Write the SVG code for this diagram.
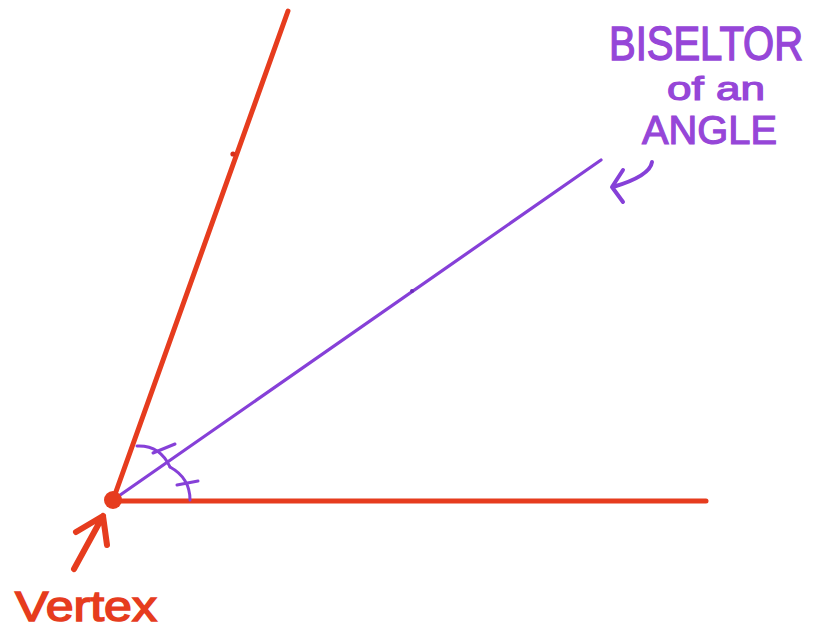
<svg xmlns="http://www.w3.org/2000/svg" width="821" height="632" viewBox="0 0 821 632">
<style>
.red{stroke:#e63c1e;fill:none;stroke-linecap:round;stroke-linejoin:round}
.pur{stroke:#8640d8;fill:none;stroke-linecap:round;stroke-linejoin:round}
.rt{fill:#e63c1e;stroke:#e63c1e;stroke-width:1.5;font-family:"Liberation Sans",sans-serif}
.pt{fill:#9646d8;stroke:#9646d8;stroke-width:1.2;font-family:"Liberation Sans",sans-serif}
</style>
<rect width="821" height="632" fill="#ffffff"/>
<g id="connectors">
<line class="red" x1="113" y1="500" x2="288" y2="11" stroke-width="5"/>
<line class="red" x1="113" y1="501" x2="706" y2="501" stroke-width="5"/>
<line class="pur" x1="113" y1="500" x2="601" y2="160" stroke-width="3.2"/>
<circle cx="233" cy="154" r="2.6" fill="#d8301a"/>
<circle cx="412" cy="291" r="2" fill="#6a2cb8"/>
<path class="pur" d="M137,446 Q160,445 170,467" stroke-width="3"/>
<path class="pur" d="M153,453 L175,444" stroke-width="3"/>
<path class="pur" d="M170,467 Q190,478 190,500" stroke-width="3"/>
<path class="pur" d="M177,485 L198,481" stroke-width="3"/>
<path class="pur" d="M652,162 Q650,176 613,187 M623,170 L612,187 L623,202" stroke-width="4"/>
<path class="red" d="M74,569 L103,516 M76,532 L103,516 L107,545" stroke-width="6"/>
</g>
<g id="vertex">
<circle cx="113" cy="500" r="9" fill="#e63c1e"/>
<text class="rt" x="15" y="621" font-size="42" textLength="142" lengthAdjust="spacingAndGlyphs">Vertex</text>
</g>
<g id="bisector-label">
<text class="pt" transform="translate(609,60) scale(1,1.18)" x="0" y="0" font-size="40">BISELTOR</text>
<text class="pt" x="667" y="100" font-size="34" textLength="98" lengthAdjust="spacingAndGlyphs">of an</text>
<text class="pt" x="642" y="144" font-size="40" textLength="135" lengthAdjust="spacingAndGlyphs">ANGLE</text>
</g>
</svg>
